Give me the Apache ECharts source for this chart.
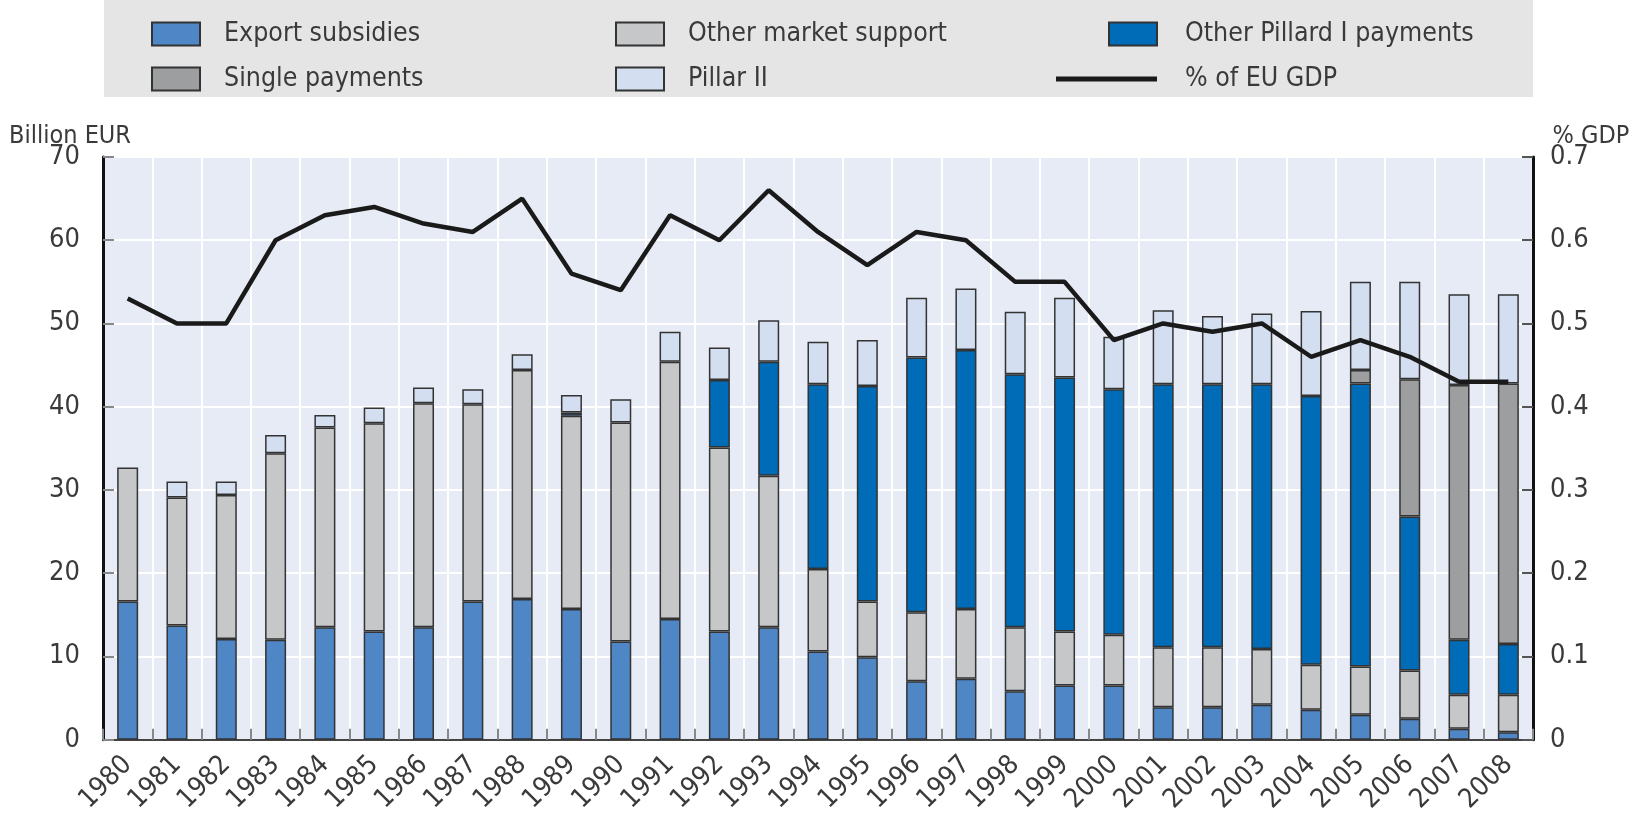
<!DOCTYPE html>
<html>
<head>
<meta charset="utf-8">
<script src="https://cdn.jsdelivr.net/npm/echarts@6/dist/echarts.min.js"></script>
<style>
html,body{margin:0;padding:0;background:#fff;}
#chart{width:1635px;height:816px;}
</style>
</head>
<body>
<div id="chart"></div>
<script>
const years = ['1980','1981','1982','1983','1984','1985','1986','1987','1988','1989','1990','1991','1992','1993','1994','1995','1996','1997','1998','1999','2000','2001','2002','2003','2004','2005','2006','2007','2008'];
const exportSubsidies = [16.6,13.7,12.1,12.0,13.5,13.0,13.5,16.6,16.9,15.7,11.8,14.5,13.0,13.5,10.6,9.9,7.0,7.3,5.8,6.5,6.5,3.9,3.9,4.2,3.6,3.0,2.5,1.3,0.9];
const otherMarketSupport = [16.1,15.4,17.3,22.4,24.0,25.0,26.9,23.7,27.5,23.2,26.3,30.9,22.1,18.2,9.9,6.7,8.3,8.4,7.7,6.5,6.1,7.2,7.2,6.7,5.4,5.8,5.8,4.1,4.5];
const otherPillarI = ['-','-','-','-','-','-','-','-','-',0.4,'-','-',8.1,13.7,22.2,25.9,30.6,31.1,30.4,30.5,29.5,31.6,31.6,31.8,32.3,34.0,18.5,6.6,6.1];
const singlePayments = ['-','-','-','-','-','-','-','-','-','-','-','-','-','-','-','-','-','-','-','-','-','-','-','-','-',1.6,16.5,30.6,31.3];
const pillarII = ['-',1.9,1.6,2.2,1.5,1.9,1.9,1.8,1.9,2.1,2.8,3.6,3.9,5.0,5.1,5.5,7.2,7.4,7.5,9.6,6.3,8.9,8.2,8.5,10.2,10.6,11.7,10.9,10.7];
const gdpShare = [0.53,0.50,0.50,0.60,0.63,0.64,0.62,0.61,0.65,0.56,0.54,0.63,0.60,0.66,0.61,0.57,0.61,0.60,0.55,0.55,0.48,0.50,0.49,0.50,0.46,0.48,0.46,0.43,0.43];

const FONT = '"DejaVu Sans Condensed","Liberation Sans Narrow","DejaVu Sans",sans-serif';
const TXT = '#3a3a3a';
const border = {borderColor:'#333', borderWidth:1.5};

function barSeries(name, data, color){
  return {name, type:'bar', stack:'total', data, barWidth:21,
    itemStyle:Object.assign({color}, border), emphasis:{disabled:true}};
}
const legendText = {fontFamily:FONT, fontSize:26.5, color:TXT, lineHeight:36, padding:[0,0,0,19]};
const legendBase = {orient:'vertical', padding:0, itemWidth:48, itemHeight:23, itemGap:9, icon:'rect',
  textStyle:legendText, selectedMode:false};

const chart = echarts.init(document.getElementById('chart'), null, {renderer:'canvas'});
chart.setOption({
  animation:false,
  backgroundColor:'#fff',
  graphic:[{type:'rect', z:-10, shape:{x:104,y:0,width:1429,height:97}, style:{fill:'#e5e5e5'}}],
  legend:[
    Object.assign({}, legendBase, {left:151, top:16, data:['Export subsidies','Single payments']}),
    Object.assign({}, legendBase, {left:615, top:16, data:['Other market support','Pillar II']}),
    Object.assign({}, legendBase, {left:1108, top:16, data:['Other Pillard I payments'], textStyle:Object.assign({}, legendText, {padding:[0,0,0,23]})}),
    Object.assign({}, legendBase, {left:1056, top:61, itemWidth:101, itemHeight:5, data:['% of EU GDP'], textStyle:Object.assign({}, legendText, {padding:[0,0,0,23]})})
  ],
  grid:{left:103, right:102, top:157, bottom:75, show:true, backgroundColor:'#e6ebf5', borderColor:'#444', borderWidth:1.5, containLabel:false},
  xAxis:{type:'category', data:years, boundaryGap:true,
    axisLine:{show:true, lineStyle:{color:'#444', width:2}},
    axisTick:{show:true, inside:true, length:11, interval:0, lineStyle:{color:'#888', width:2}},
    splitLine:{show:true, interval:0, lineStyle:{color:'#ffffff', width:2}},
    axisLabel:{interval:0, rotate:45, margin:21, fontFamily:FONT, fontSize:27, color:TXT}
  },
  yAxis:[
    {type:'value', min:0, max:70, interval:10, position:'left',
      name:'Billion EUR', nameLocation:'end', nameGap:6, nameMoveOverlap:false,
      nameTextStyle:{fontFamily:FONT, fontSize:25, color:TXT, align:'center', verticalAlign:'bottom', lineHeight:30, padding:[0,66,0,0]},
      axisLine:{show:true, lineStyle:{color:'#111', width:3}},
      axisTick:{show:true, inside:true, length:11, lineStyle:{color:'#888', width:2}},
      splitLine:{show:true, lineStyle:{color:'#ffffff', width:2}},
      axisLabel:{fontFamily:FONT, fontSize:27, color:TXT, margin:23}
    },
    {type:'value', min:0, max:0.7, interval:0.1, position:'right',
      name:'% GDP', nameLocation:'end', nameGap:6, nameMoveOverlap:false,
      nameTextStyle:{fontFamily:FONT, fontSize:25, color:TXT, align:'center', verticalAlign:'bottom', lineHeight:30, padding:[0,0,0,116]},
      axisLine:{show:true, lineStyle:{color:'#111', width:3}},
      axisTick:{show:true, inside:true, length:11, lineStyle:{color:'#555', width:2}},
      splitLine:{show:false},
      axisLabel:{fontFamily:FONT, fontSize:27, color:TXT, margin:17, formatter:v=>String(Math.round(v*10)/10)}
    }
  ],
  series:[
    barSeries('Export subsidies', exportSubsidies, '#4f86c6'),
    barSeries('Other market support', otherMarketSupport, '#c6c7c9'),
    barSeries('Other Pillard I payments', otherPillarI, '#006bb6'),
    barSeries('Single payments', singlePayments, '#9d9ea0'),
    barSeries('Pillar II', pillarII, '#d3dff0'),
    {name:'% of EU GDP', type:'line', yAxisIndex:1, data:gdpShare, symbol:'none', showSymbol:false, z:5,
      lineStyle:{color:'#1a1a1a', width:4.5}, itemStyle:{color:'#1a1a1a'}, emphasis:{disabled:true}}
  ]
});
</script>
</body>
</html>
